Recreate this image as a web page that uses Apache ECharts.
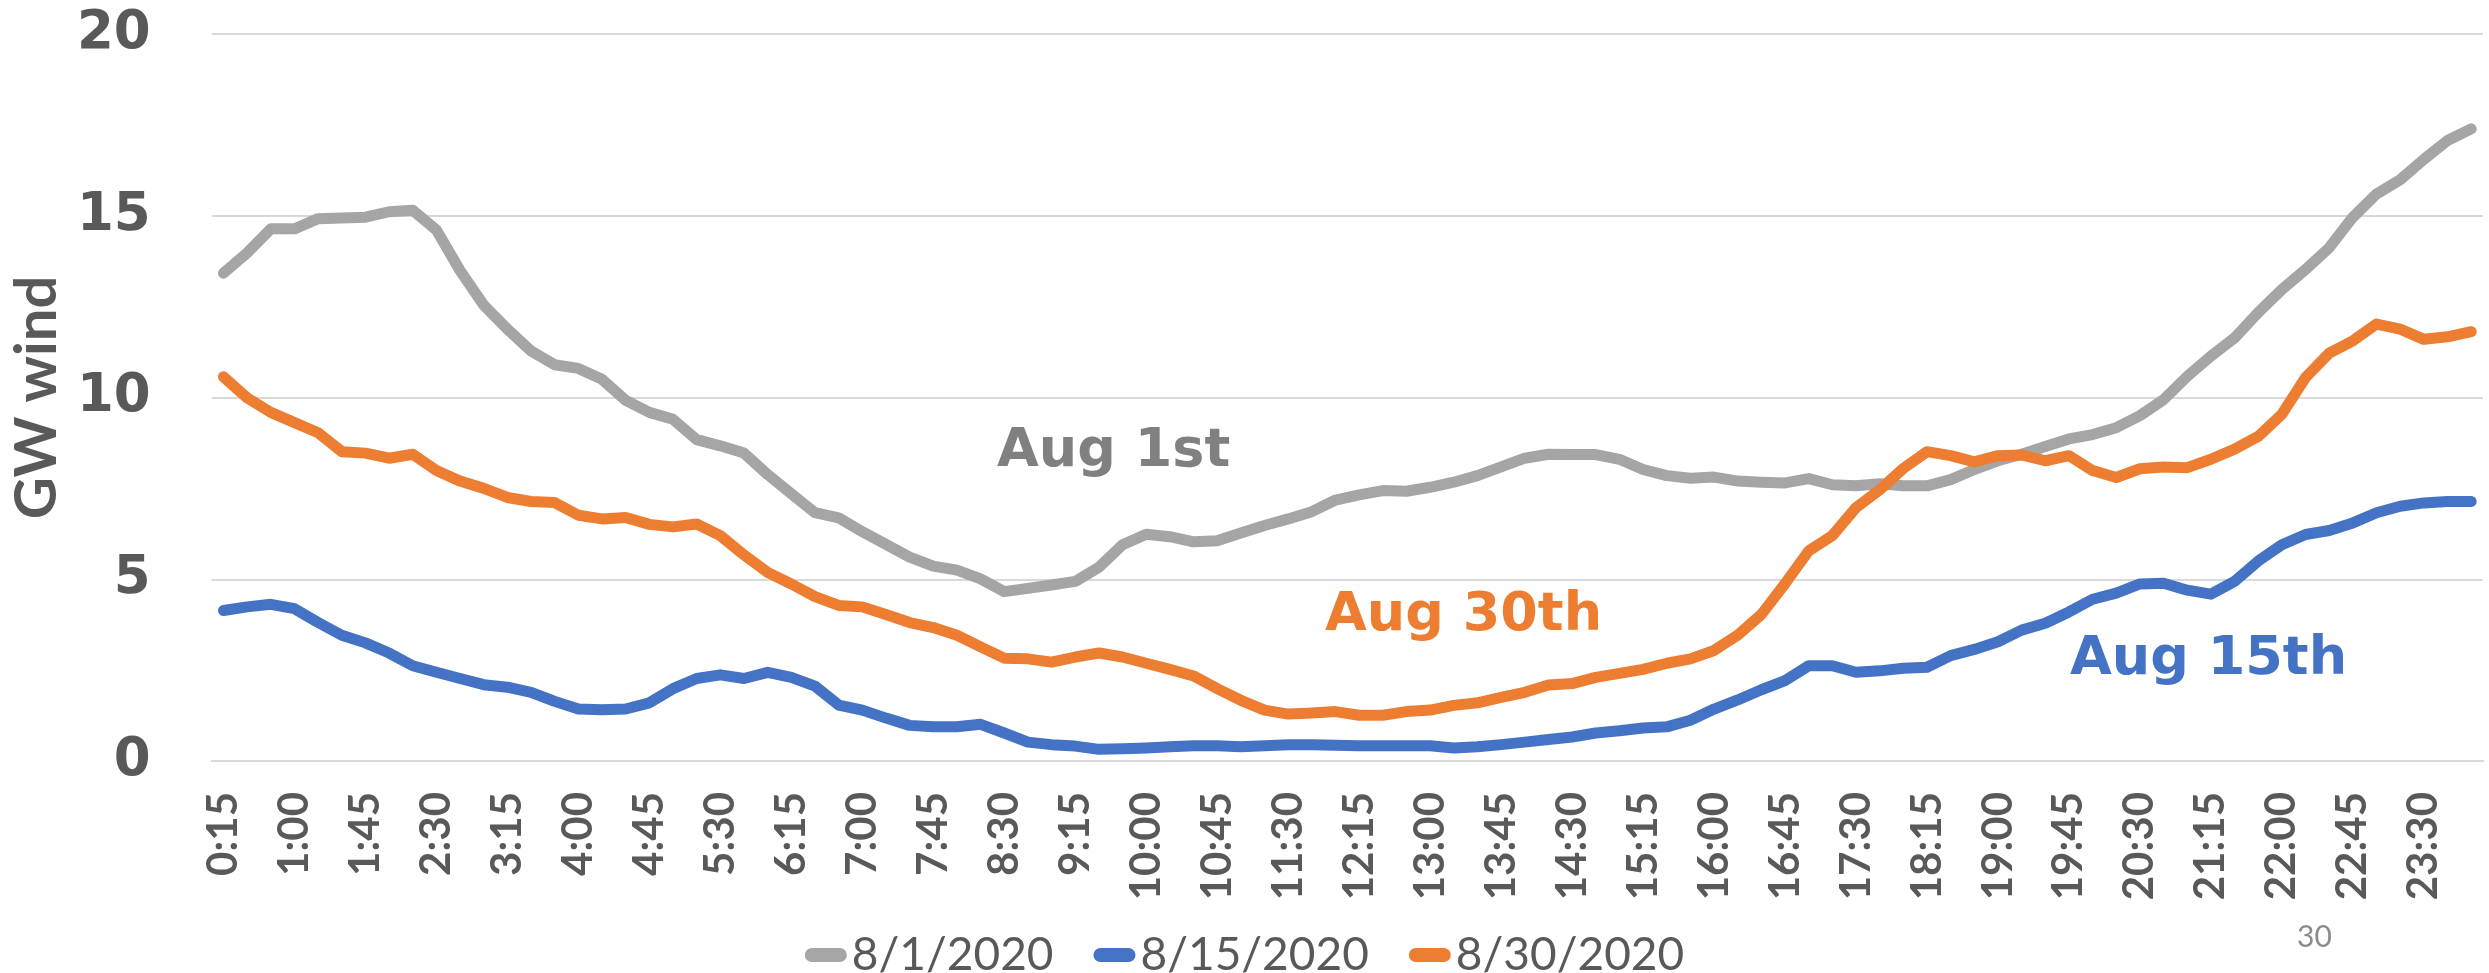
<!DOCTYPE html>
<html>
<head>
<meta charset="utf-8">
<title>GW wind</title>
<script src="https://cdn.jsdelivr.net/npm/echarts@6.0.0/dist/echarts.min.js"></script>
<style>
  html, body { margin: 0; padding: 0; background: #fff; }
  #mychart { width: 2489px; height: 973px; }
</style>
</head>
<body>
<div id="mychart"></div>
<script>
// 15-minute intervals
var times = ['0:15','0:30','0:45','1:00','1:15','1:30','1:45','2:00','2:15','2:30','2:45','3:00',
  '3:15','3:30','3:45','4:00','4:15','4:30','4:45','5:00','5:15','5:30','5:45','6:00',
  '6:15','6:30','6:45','7:00','7:15','7:30','7:45','8:00','8:15','8:30','8:45','9:00',
  '9:15','9:30','9:45','10:00','10:15','10:30','10:45','11:00','11:15','11:30','11:45','12:00',
  '12:15','12:30','12:45','13:00','13:15','13:30','13:45','14:00','14:15','14:30','14:45','15:00',
  '15:15','15:30','15:45','16:00','16:15','16:30','16:45','17:00','17:15','17:30','17:45','18:00',
  '18:15','18:30','18:45','19:00','19:15','19:30','19:45','20:00','20:15','20:30','20:45','21:00',
  '21:15','21:30','21:45','22:00','22:15','22:30','22:45','23:00','23:15','23:30','23:45','0:00'];

var aug1 = [13.42,13.98,14.64,14.64,14.92,14.94,14.96,15.11,15.15,14.61,13.49,12.54,11.88,11.28,10.90,10.80,10.50,
  9.92,9.59,9.40,8.84,8.67,8.47,7.88,7.35,6.83,6.69,6.31,5.96,5.61,5.36,5.25,5.01,
  4.66,4.75,4.84,4.94,5.33,5.95,6.24,6.17,6.03,6.06,6.27,6.48,6.66,6.86,7.18,7.32,7.44,
  7.42,7.53,7.67,7.85,8.09,8.33,8.44,8.43,8.43,8.30,8.02,7.85,7.78,7.81,7.70,7.67,7.65,
  7.77,7.60,7.57,7.63,7.57,7.57,7.74,8.02,8.26,8.44,8.65,8.86,8.98,9.17,9.50,9.94,10.58,
  11.14,11.64,12.34,12.97,13.52,14.12,14.96,15.60,15.99,16.55,17.07,17.39];

var aug15 = [4.14,4.24,4.31,4.19,3.81,3.46,3.25,2.97,2.62,2.44,2.27,2.10,2.03,1.89,1.64,1.43,1.41,
  1.43,1.60,1.99,2.27,2.37,2.27,2.44,2.30,2.06,1.54,1.40,1.18,0.98,0.94,0.94,1.01,
  0.77,0.52,0.45,0.41,0.32,0.34,0.36,0.39,0.42,0.42,0.39,0.42,0.45,0.45,0.43,0.42,0.42,
  0.42,0.42,0.36,0.39,0.45,0.52,0.59,0.66,0.77,0.83,0.91,0.94,1.12,1.43,1.68,1.96,2.21,
  2.62,2.62,2.44,2.48,2.55,2.58,2.90,3.07,3.28,3.60,3.79,4.10,4.45,4.62,4.87,4.89,4.70,
  4.59,4.94,5.50,5.95,6.23,6.34,6.55,6.83,7.01,7.10,7.14,7.14];

var aug30 = [10.57,9.99,9.59,9.31,9.03,8.51,8.47,8.33,8.44,7.99,7.70,7.50,7.25,7.14,7.11,6.76,6.66,
  6.70,6.51,6.44,6.52,6.20,5.67,5.19,4.87,4.52,4.28,4.24,4.03,3.81,3.67,3.46,3.14,
  2.83,2.81,2.72,2.86,2.97,2.86,2.69,2.52,2.34,1.99,1.67,1.40,1.29,1.32,1.36,1.26,1.26,
  1.36,1.40,1.53,1.60,1.75,1.89,2.09,2.13,2.30,2.41,2.52,2.69,2.81,3.04,3.46,4.03,4.88,
  5.78,6.20,6.97,7.46,8.05,8.51,8.40,8.23,8.40,8.42,8.26,8.40,7.99,7.80,8.04,8.09,8.07,
  8.30,8.58,8.93,9.54,10.55,11.22,11.56,12.02,11.88,11.60,11.67,11.81];

var seriesNames = ['8/1/2020', '8/15/2020', '8/30/2020'];
var colors = ['#A5A5A5', '#4472C4', '#ED7D31'];

var myChart = echarts.init(document.getElementById('mychart'));

function lineSeries(name, data) {
  return {
    name: name,
    type: 'line',
    data: data,
    symbol: 'none',
    smooth: false,
    lineStyle: { width: 11, cap: 'round', join: 'round' }
  };
}

var option = {
  backgroundColor: '#ffffff',
  color: colors,
  animation: false,
  grid: { left: 208, right: 6, top: 34, bottom: 212, containLabel: false },
  legend: {
    left: 'center',
    top: 927,
    itemWidth: 42,
    itemHeight: 14,
    itemGap: 40,
    icon: 'path://M7,0 L35,0 A7,7 0 0 1 35,14 L7,14 A7,7 0 0 1 7,0 Z',
    textStyle: { fontFamily: 'Lato', fontSize: 46, color: '#595959' },
    data: seriesNames
  },
  xAxis: {
    type: 'category',
    data: times,
    boundaryGap: true,
    axisLine: { lineStyle: { color: '#D9D9D9', width: 2 } },
    axisTick: { show: false },
    axisLabel: {
      interval: 2,
      rotate: 90,
      margin: 31,
      fontFamily: 'Lato',
      fontWeight: 'bold',
      fontSize: 42,
      color: '#595959'
    }
  },
  yAxis: {
    type: 'value',
    min: 0,
    max: 20,
    interval: 5,
    name: 'GW wind',
    nameLocation: 'middle',
    nameGap: 142,
    nameTextStyle: { fontFamily: 'Lato', fontWeight: 'bold', fontSize: 58, color: '#595959' },
    axisLine: { show: false },
    axisTick: { show: false },
    splitLine: { lineStyle: { color: '#D9D9D9', width: 2 } },
    axisLabel: {
      margin: 61,
      fontFamily: 'DejaVu Sans',
      fontWeight: 'bold',
      fontSize: 53,
      color: '#595959'
    }
  },
  graphic: [
    { type: 'text', left: 997, top: 425, style: { text: 'Aug 1st', fontFamily: 'DejaVu Sans', fontWeight: 'bold', fontSize: 54, fill: '#808080' } },
    { type: 'text', left: 1325, top: 589, style: { text: 'Aug 30th', fontFamily: 'DejaVu Sans', fontWeight: 'bold', fontSize: 54, fill: '#ED7D31' } },
    { type: 'text', left: 2070, top: 633, style: { text: 'Aug 15th', fontFamily: 'DejaVu Sans', fontWeight: 'bold', fontSize: 54, fill: '#4472C4' } },
    { type: 'text', left: 2297, top: 922, style: { text: '30', fontFamily: 'Lato', fontSize: 30, fill: '#8C8C8C' } }
  ],
  series: [
    lineSeries(seriesNames[0], aug1),
    lineSeries(seriesNames[1], aug15),
    lineSeries(seriesNames[2], aug30)
  ]
};

myChart.setOption(option);
</script>
</body>
</html>
